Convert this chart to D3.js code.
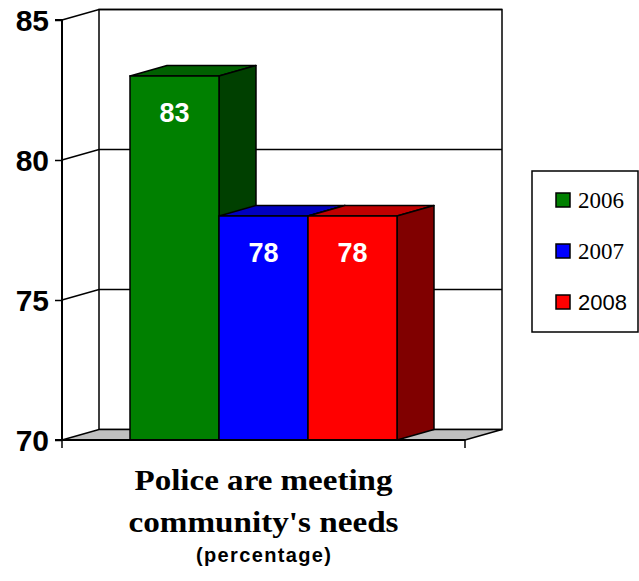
<!DOCTYPE html>
<html>
<head>
<meta charset="utf-8">
<script src="https://cdn.jsdelivr.net/npm/d3@7/dist/d3.min.js"></script>
<style>
  html, body { margin: 0; padding: 0; background: #fff; }
  svg { display: block; }
</style>
</head>
<body>
<svg id="chart" width="639" height="581"></svg>
<script>
// Survey result: share agreeing that police meet community needs
const categories = ["Police are meeting community's needs"];
const categoryLines = ["Police are meeting", "community's needs"];
const years = ["2006", "2007", "2008"];
const values = [83, 78, 78];
const yTicks = [70, 75, 80, 85];
const unitLabel = "(percentage)";

const faceColors = ["#008000", "#0000ff", "#ff0000"];
const topColors  = ["#006000", "#0000c0", "#c00000"];
const sideColors = ["#004000", "#000080", "#800000"];

const svg = d3.select("#chart");

// Front plane of the 3D box and its depth offset
const plotLeft = 62, plotRight = 465, plotTop = 20, plotBottom = 440;
const dx = 37, dy = -10.5;

const y = d3.scaleLinear().domain([70, 85]).range([plotBottom, plotTop]);
const x = d3.scaleBand().domain(years).range([plotLeft, plotRight])
  .paddingInner(0).paddingOuter(0.764);

const line = d3.line();
const stroke = "#000";
const serif = "'Liberation Serif', 'Times New Roman', serif";
const sans = "'Liberation Sans', Arial, sans-serif";

// Side wall (left)
svg.append("path")
  .attr("d", line([[plotLeft, y(70)], [plotLeft + dx, y(70) + dy], [plotLeft + dx, y(85) + dy], [plotLeft, y(85)]]) + "Z")
  .attr("fill", "#fff").attr("stroke", "none");

// Back wall
svg.append("rect")
  .attr("x", plotLeft + dx).attr("y", y(85) + dy)
  .attr("width", plotRight - plotLeft).attr("height", y(70) - y(85))
  .attr("fill", "#fff").attr("stroke", stroke).attr("stroke-width", 1.5);

// Gridlines on the back wall and across the side wall
yTicks.filter(t => t > 70).forEach(t => {
  svg.append("path")
    .attr("d", line([[plotLeft, y(t)], [plotLeft + dx, y(t) + dy], [plotRight + dx, y(t) + dy]]))
    .attr("fill", "none").attr("stroke", stroke).attr("stroke-width", 1.5);
});

// Floor
svg.append("path")
  .attr("d", line([[plotLeft, y(70)], [plotLeft + dx, y(70) + dy], [plotRight + dx, y(70) + dy], [plotRight, y(70)]]) + "Z")
  .attr("fill", "#c0c0c0").attr("stroke", stroke).attr("stroke-width", 1.5);

// Bars, drawn left to right so each one overlaps the side of the previous
years.forEach((yr, i) => {
  const x0 = x(yr), x1 = x(yr) + x.bandwidth();
  const yt = y(values[i]), yb = y(70);
  // top face
  svg.append("path")
    .attr("d", line([[x0, yt], [x0 + dx, yt + dy], [x1 + dx, yt + dy], [x1, yt]]) + "Z")
    .attr("fill", topColors[i]).attr("stroke", stroke).attr("stroke-width", 1.5).attr("stroke-linejoin", "round");
  // side face
  svg.append("path")
    .attr("d", line([[x1, yt], [x1 + dx, yt + dy], [x1 + dx, yb + dy], [x1, yb]]) + "Z")
    .attr("fill", sideColors[i]).attr("stroke", stroke).attr("stroke-width", 1.5).attr("stroke-linejoin", "round");
  // front face
  svg.append("rect")
    .attr("x", x0).attr("y", yt).attr("width", x1 - x0).attr("height", yb - yt)
    .attr("fill", faceColors[i]).attr("stroke", stroke).attr("stroke-width", 1.5);
  // value label
  svg.append("text")
    .attr("x", (x0 + x1) / 2).attr("y", yt + 46)
    .attr("text-anchor", "middle")
    .attr("font-family", sans)
    .attr("font-weight", "bold").attr("font-size", 27)
    .attr("fill", "#fff")
    .text(values[i]);
});

// Front baseline
svg.append("line")
  .attr("x1", plotLeft).attr("x2", plotRight).attr("y1", y(70)).attr("y2", y(70))
  .attr("stroke", stroke).attr("stroke-width", 2);

// Y axis
const yAxis = svg.append("g")
  .attr("transform", `translate(${plotLeft},0)`)
  .call(d3.axisLeft(y).tickValues(yTicks).tickSize(7).tickPadding(6).tickFormat(d3.format("d")));
yAxis.select(".domain").attr("stroke", stroke).attr("stroke-width", 2).attr("d", `M-7,${plotTop}H0V${plotBottom}H-7`);
yAxis.selectAll(".tick line").attr("stroke", stroke).attr("stroke-width", 1.5);
yAxis.selectAll(".tick text")
  .attr("font-family", sans)
  .attr("font-weight", "bold").attr("font-size", 30).attr("fill", "#000")
  .attr("dy", "0.36em");

// X axis tick marks at both ends of the category
[plotLeft, plotRight].forEach(px => {
  svg.append("line")
    .attr("x1", px).attr("x2", px).attr("y1", y(70)).attr("y2", y(70) + 8)
    .attr("stroke", stroke).attr("stroke-width", 1.5);
});

// Category label
const cx = (plotLeft + plotRight) / 2;
const lineWidths = [258, 270];
categoryLines.forEach((t, i) => {
  svg.append("text")
    .attr("x", cx).attr("y", 490 + i * 42)
    .attr("text-anchor", "middle")
    .attr("font-family", serif)
    .attr("font-weight", "bold").attr("font-size", 30).attr("fill", "#000")
    .attr("textLength", lineWidths[i]).attr("lengthAdjust", "spacingAndGlyphs")
    .text(t);
});
svg.append("text")
  .attr("x", cx).attr("y", 562)
  .attr("text-anchor", "middle")
  .attr("font-family", sans)
  .attr("font-weight", "bold").attr("font-size", 20).attr("fill", "#000")
  .attr("textLength", 135).attr("lengthAdjust", "spacing")
  .text(unitLabel);

// Legend
const legend = svg.append("g");
legend.append("rect")
  .attr("x", 532).attr("y", 171).attr("width", 106).attr("height", 161)
  .attr("fill", "#fff").attr("stroke", stroke).attr("stroke-width", 1.5);
const legendFonts = [serif, serif, sans];
years.forEach((yr, i) => {
  const cy = 200 + i * 51;
  legend.append("rect")
    .attr("x", 556).attr("y", cy - 7).attr("width", 14).attr("height", 14)
    .attr("fill", faceColors[i]).attr("stroke", stroke).attr("stroke-width", 1.5);
  legend.append("text")
    .attr("x", 578).attr("y", cy + 8)
    .attr("font-family", legendFonts[i])
    .attr("font-size", i === 2 ? 22 : 23).attr("fill", "#000")
    .text(yr);
});
</script>
</body>
</html>
